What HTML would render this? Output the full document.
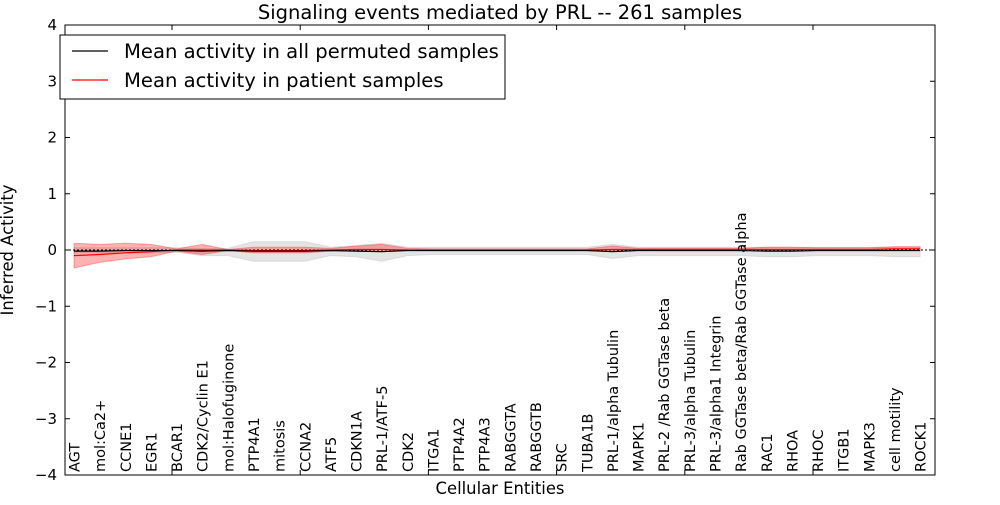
<!DOCTYPE html>
<html><head><meta charset="utf-8">
<style>
body{margin:0;background:#fff;width:1000px;height:500px;overflow:hidden;font-family:"Liberation Sans","DejaVu Sans",sans-serif}
svg text{font-family:"DejaVu Sans","Liberation Sans",sans-serif}
</style></head>
<body>
<svg id="chart" width="1000" height="500"></svg>
<script>
const categories=["AGT","mol:Ca2+","CCNE1","EGR1","BCAR1","CDK2/Cyclin E1","mol:Halofuginone","PTP4A1","mitosis","CCNA2","ATF5","CDKN1A","PRL-1/ATF-5","CDK2","ITGA1","PTP4A2","PTP4A3","RABGGTA","RABGGTB","SRC","TUBA1B","PRL-1/alpha Tubulin","MAPK1","PRL-2 /Rab GGTase beta","PRL-3/alpha Tubulin","PRL-3/alpha1 Integrin","Rab GGTase beta/Rab GGTase alpha","RAC1","RHOA","RHOC","ITGB1","MAPK3","cell motility","ROCK1"];
const patientMean=[-0.1,-0.08,-0.05,-0.03,0,0,0,-0.01,-0.01,-0.01,0,0.01,0.01,0,0,0,0,0,0,0,0,0.01,0.01,0.01,0.01,0.01,0.01,0.01,0.01,0.01,0.01,0.01,0.02,0.02];
const patientLo=[-0.32,-0.22,-0.16,-0.12,-0.02,-0.08,-0.01,-0.05,-0.05,-0.05,-0.02,-0.02,-0.03,-0.01,-0.01,-0.01,-0.01,-0.01,-0.01,-0.01,-0.01,-0.02,-0.01,-0.01,-0.01,-0.01,-0.01,-0.01,-0.01,-0.01,-0.01,-0.01,-0.01,-0.01];
const patientHi=[0.12,0.1,0.12,0.1,0.02,0.1,0.01,0.05,0.05,0.05,0.03,0.07,0.1,0.03,0.02,0.02,0.02,0.02,0.02,0.02,0.02,0.07,0.03,0.03,0.03,0.03,0.03,0.05,0.05,0.04,0.04,0.04,0.06,0.06];
const permMean=[-0.02,-0.02,-0.01,-0.01,-0.01,-0.02,-0.01,-0.02,-0.02,-0.02,-0.01,-0.02,-0.03,-0.01,-0.01,-0.01,-0.01,-0.01,-0.01,-0.01,-0.01,-0.03,-0.01,-0.01,-0.01,-0.01,-0.01,-0.02,-0.02,-0.01,-0.01,-0.01,-0.01,-0.01];
const permLo=[-0.05,-0.05,-0.05,-0.05,-0.04,-0.1,-0.1,-0.2,-0.2,-0.2,-0.1,-0.12,-0.2,-0.1,-0.08,-0.08,-0.08,-0.08,-0.08,-0.08,-0.08,-0.15,-0.1,-0.1,-0.1,-0.1,-0.1,-0.12,-0.12,-0.1,-0.1,-0.1,-0.12,-0.12];
const permHi=[0.04,0.04,0.04,0.04,0.04,0.03,0.03,0.15,0.15,0.15,0.05,0.08,0.12,0.05,0.05,0.05,0.05,0.05,0.05,0.05,0.05,0.1,0.05,0.05,0.05,0.05,0.05,0.05,0.05,0.05,0.05,0.05,0.05,0.05];
const yTicks=[4,3,2,1,0,-1,-2,-3,-4];
const yTickLabels=["4","3","2","1","0","\u22121","\u22122","\u22123","\u22124"];
const xTicks=[5,10,15,20,25,30];

const NS="http://www.w3.org/2000/svg";
const svg=document.getElementById('chart');
const L=65,R=935,T=25,B=475;
const U=25.64;
function x(i){return 74+i*U;}
function xt(v){return 172+(v-5)*U;}
function y(v){return 250-v*56.25;}
function mk(t,a,p){const e=document.createElementNS(NS,t);for(const k in a)e.setAttribute(k,a[k]);(p||svg).appendChild(e);return e;}
function band(lo,hi,fill,op,name){
  let d="M"+lo.map((v,i)=>x(i)+","+y(v)).join(" L");
  for(let i=hi.length-1;i>=0;i--)d+=" L"+x(i)+","+y(hi[i]);
  const e=mk('path',{d:d+"Z",fill:fill,'fill-opacity':op,stroke:fill,'stroke-opacity':op});
  
  
}
function line(vals,col,name){
  const e=mk('polyline',{points:vals.map((v,i)=>x(i)+","+y(v)).join(" "),fill:'none',stroke:col,'stroke-width':1.2});
  
  
}
band(permLo,permHi,'#bbbbbb',0.4,'permuted-band');
band(patientLo,patientHi,'#ff0000',0.3,'patient-band');
const z=mk('line',{x1:L,x2:R,y1:y(0),y2:y(0),stroke:'#000','stroke-dasharray':'2,2'});


line(patientMean,'#ff0000','patient-mean-line');
line(permMean,'#000000','permuted-mean-line');
const fr=mk('rect',{x:L,y:T,width:R-L,height:B-T,fill:'none',stroke:'#000'});


yTicks.forEach((v,i)=>{
  mk('line',{x1:L,x2:L+5,y1:y(v),y2:y(v),stroke:'#000'});
  mk('line',{x1:R,x2:R-5,y1:y(v),y2:y(v),stroke:'#000'});
  const t=mk('text',{x:L-8,y:y(v)+5,'text-anchor':'end','font-size':15});
  t.textContent=yTickLabels[i];
  
  
});
xTicks.forEach(v=>{
  mk('line',{x1:xt(v),x2:xt(v),y1:B,y2:B-5,stroke:'#000'});
  mk('line',{x1:xt(v),x2:xt(v),y1:T,y2:T+5,stroke:'#000'});
});
categories.forEach((c,i)=>{
  const t=mk('text',{x:0,y:0,transform:`translate(${x(i)+5.5},${B-3}) rotate(-90)`,'font-size':14.5});
  t.textContent=c;
  
  
});
const title=mk('text',{x:500,y:19,'text-anchor':'middle','font-size':19.5});
title.textContent="Signaling events mediated by PRL -- 261 samples";


const xl=mk('text',{x:500,y:494,'text-anchor':'middle','font-size':16.4});
xl.textContent="Cellular Entities";


const yl=mk('text',{x:0,y:0,transform:'translate(13,250) rotate(-90)','text-anchor':'middle','font-size':16.4});
yl.textContent="Inferred Activity";


const lg=mk('g',{});


mk('rect',{x:60,y:35,width:445,height:64,fill:'#fff',stroke:'#000'},lg);
[["Mean activity in all permuted samples","#000"],["Mean activity in patient samples","#ff0000"]].forEach((e,i)=>{
  const g=mk('g',{},lg);
  
  
  mk('line',{x1:72,x2:108,y1:51+i*29,y2:51+i*29,stroke:e[1],'stroke-width':1.2},g);
  const t=mk('text',{x:124,y:58+i*29,'font-size':19.6},g);
  t.textContent=e[0];
});
</script>
</body></html>
